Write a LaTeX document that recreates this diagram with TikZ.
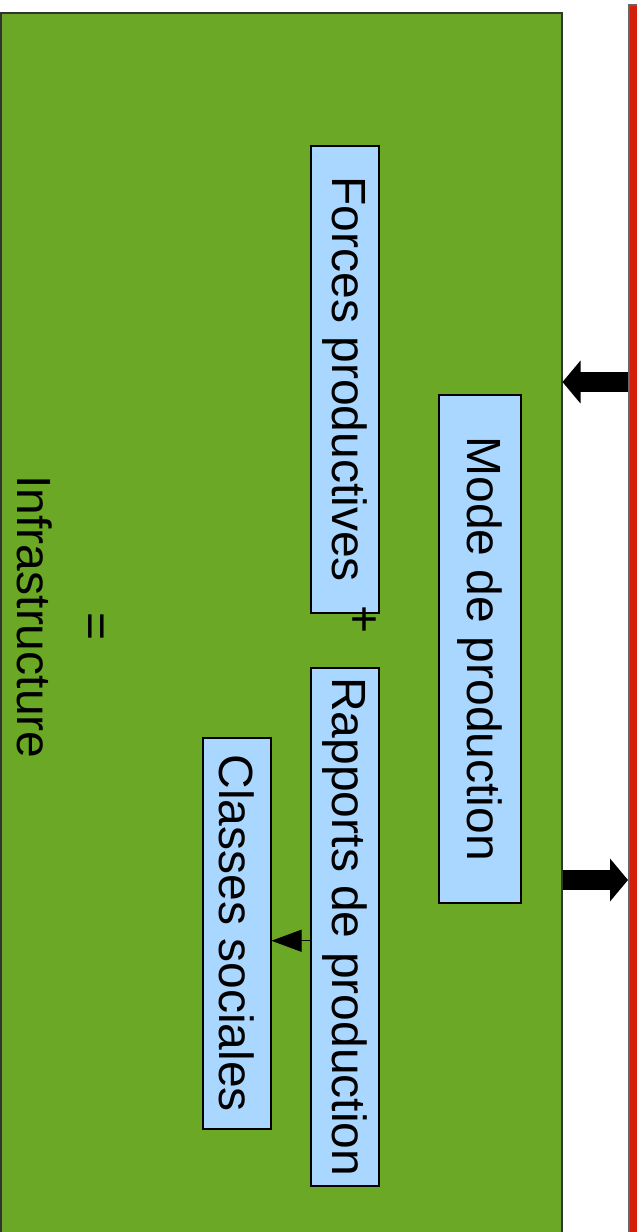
\documentclass[tikz,border=0pt]{standalone}
\usepackage{fontspec}
\setmainfont{Liberation Sans}
\usepackage{graphicx}
\usetikzlibrary{arrows.meta,positioning}
\definecolor{infragreen}{RGB}{106,168,37}
\definecolor{superred}{RGB}{212,32,10}
\definecolor{boxblue}{RGB}{170,215,255}

\begin{document}
\begin{tikzpicture}[x=1pt,y=-1pt,box/.style={draw=black,fill=boxblue,line width=1.5pt,inner sep=0pt,anchor=north west,font=\fontsize{48}{56}\selectfont},lbl/.style={inner sep=0pt,font=\fontsize{48}{56}\selectfont},big/.style={line width=20pt,-{Triangle[length=18pt,width=42pt]}}]

\clip(0,0)rectangle(637,1232);
% Large panels, cut by the page edge as in the source.
\node[draw=black!80,fill=infragreen,line width=1.5pt,inner sep=0pt,anchor=north west,minimum width=561pt,minimum height=1240pt](infra)at(0,12){};
\node[draw=black!60,fill=superred,line width=1.5pt,inner sep=0pt,anchor=north west,minimum width=80pt,minimum height=1240pt](superstr)at(628,4){};
\node[box,minimum width=68pt,minimum height=467pt](forces)at(310,145){\rotatebox{-90}{Forces productives}};
\node[box,minimum width=82pt,minimum height=508pt](mode)at(438,394){\rotatebox{-90}{Mode de production}};
\node[box,minimum width=68pt,minimum height=518pt](rapports)at(310,667){\rotatebox{-90}{Rapports de production}};
\node[box,minimum width=68pt,minimum height=391pt](classes)at(202,737){\rotatebox{-90}{Classes sociales}};
\node[lbl](plus)at(362,620){\rotatebox{-90}{+}};
\node[lbl](eq)at(92,627){\rotatebox{-90}{=}};
\node[lbl](infratxt)at(35,617){\rotatebox{-90}{Infrastructure}};
\draw[line width=1pt,-{Triangle[length=30pt,width=22pt]}]([yshift=-14pt]rapports.west)--([yshift=-7.5pt]classes.east);
\draw[big](superstr.west|-0,382)--(infra.east|-0,382);
\draw[big](infra.east|-0,880)--(superstr.west|-0,880);
\end{tikzpicture}
\end{document}
